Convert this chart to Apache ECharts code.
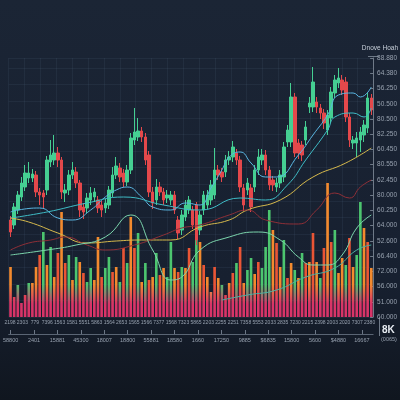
<!DOCTYPE html>
<html><head><meta charset="utf-8">
<script src="https://cdn.jsdelivr.net/npm/echarts@6/dist/echarts.min.js"></script>
<style>html,body{margin:0;padding:0;background:#141c28}#c{width:400px;height:400px}</style>
</head><body><div id="c"></div>
<script>
// ---- data ----
const candleOpen = [97,92,107,120,130,139,139,142,125,124, 127,155,157,164,157,124,127,142,145,134, 110,109,117,120,117,112,109,112,124,142, 149,144,135,147,177,180,186,180,162,125, 117,130,125,119,117,122,97,87,100,107, 107,112,87,107,112,117,122,147,145,145, 157,160,164,157,129,127,129,130,147,157, 162,147,137,130,134,140,175,175,220,174, 172,177,210,210,215,209,204,187,199,224, 234,237,235,200,174,174,177,182,189,219];
const candleClose = [85,110,122,134,144,144,143,125,122,120, 157,162,164,157,125,127,142,147,134,107, 105,119,124,125,109,107,114,127,142,151, 140,135,147,179,185,186,180,157,125,114, 130,125,117,122,122,107,84,102,112,117, 92,77,102,122,122,132,147,142,140,157, 160,170,157,130,112,134,110,147,160,162, 147,132,132,134,142,170,187,220,164,164, 162,190,214,235,210,204,194,202,225,237, 239,227,200,177,177,179,185,192,219,207];
const candleLow = [80,88,103,116,126,134,135,120,112,108, 122,150,152,150,118,115,122,138,129,100, 98,104,112,115,104,100,104,108,120,138, 135,130,131,143,172,176,175,152,120,108, 112,121,112,114,112,103,78,82,96,103, 88,72,82,102,108,112,118,137,135,140, 152,155,152,125,106,122,105,125,142,152, 142,127,126,125,129,135,170,170,160,158, 156,172,204,205,204,198,188,182,194,219, 229,222,195,170,168,160,165,175,184,202];
const candleHigh = [101,114,126,140,152,155,148,146,129,127, 161,177,182,170,160,133,147,155,150,137, 114,124,130,129,121,116,118,131,150,160, 154,148,152,184,209,199,190,184,166,130, 138,135,129,127,126,126,101,107,117,121, 111,115,106,126,127,137,169,152,149,162, 166,176,168,161,133,139,133,152,168,168, 167,151,141,139,147,175,192,234,224,178, 176,196,220,250,220,213,208,207,230,242, 249,242,240,204,181,185,190,197,224,223];
const volume = [50,20,32,14,22,34,34,50,62,85, 52,70,40,64,105,54,62,37,60,55, 44,35,49,37,80,40,49,60,45,50, 35,69,54,100,69,84,35,54,37,40, 64,42,49,40,75,49,45,50,49,69, 55,112,75,52,40,25,50,39,32,22, 34,44,54,70,34,47,59,43,55,49, 70,107,87,74,50,77,39,54,47,39, 64,54,55,84,55,39,69,134,75,87, 44,59,52,79,50,62,115,89,75,49];
const volumeKind = ['o','r','g','o','r','g','o','o','r','g', 'o','g','o','r','o','r','g','o','g','o', 'r','g','g','o','o','r','g','g','r','o', 'g','r','g','o','r','g','o','g','r','o', 'g','r','o','g','g','o','r','g','o','r', 'g','g','o','r','o','y','r','o','g','r', 'o','r','g','r','o','g','g','o','r','g', 'g','g','o','r','o','g','r','o','g','o', 'g','r','o','r','o','g','r','o','r','g', 'o','o','g','r','o','g','g','o','r','o'];
// moving-average style lines: [candle index, value]
const lineA = [[0,105],[2,107],[8,109],[13,99],[17,97],[22,107],[26,120],[29,127],[32,130],[36,120],[39,110],[44,107],[48,114],[52,112],[55,129],[58,147],[60,160],[63,165],[66,154],[70,140],[73,140],[79,162],[83,182],[87,202],[90,222],[94,224],[96,220],[99,230]];
const lineB = [[0,99],[10,105],[21,114],[31,120],[42,112],[52,107],[63,119],[70,117],[76,132],[81,157],[87,187],[89,200],[94,204],[97,200],[99,209]];
const lineC = [[0,99],[5,95],[13,84],[21,74],[29,76],[36,77],[44,77],[52,90],[60,97],[65,107],[74,117],[83,140],[92,154],[99,169]];
const lineD = [[0,67],[5,74],[11,77],[15,80],[21,72],[26,67],[34,72],[42,82],[47,89],[52,92],[60,102],[65,107],[70,97],[79,93],[84,107],[89,124],[93,119],[96,130],[99,137]];
const lineE = [[0,62],[10,67],[18,72],[26,80],[33,102],[39,67],[44,37],[47,40],[52,67],[60,80],[68,85],[74,77],[79,60],[83,52],[87,52],[91,62],[95,89],[99,102]];
const lineF = [[58,17],[65,22],[73,27],[81,40],[89,49],[95,67],[99,72]];
const rightLabels = ["88.880","64.380","56.250","50.500","80.500","82.250","60.450","80.550","62.450","80.000","60.250","64.000","52.600","66.400","72.000","56.000","51.000","60.000"];
const row1Labels = ["2198","2303","779","7396","1563","1581","5551","5863","1564","2653","1565","1566","7377","1568","7323","5865","2203","2255","2251","7358","5553","2033","2835","7230","2215","2398","2003","2020","7307","2380"];
const row2Labels = ["58800","2401","15881","45300","18007","18800","55881","18580","1660","17250","9885","$6835","15800","5600","$4880","16667"];

// ---- build ----
const categories = candleOpen.map((_, i) => 'D' + (i + 1));
const candleData = candleOpen.map((o, i) => [o, candleClose[i], candleLow[i], candleHigh[i]]);
const kindColor = {o:'#f38a2e', r:'#ea5535', g:'#4cc56f', y:'#f0a838'};
const volData = volume.map((v, i) => ({
  value: v,
  itemStyle: {color: {type:'linear', x:0, y:284, x2:0, y2:304, global:true,
    colorStops:[{offset:0, color:kindColor[volumeKind[i]]},{offset:1, color:'#d83468'}]}}
}));
const labelColor = '#97a1af';
const FONT = 'Liberation Sans';
const mkLine = (data, color) => ({type:'line', data, xAxisIndex:0, yAxisIndex:0, smooth:true, symbol:'none',
  lineStyle:{color, width:1}, z:4, silent:true});

const chart = echarts.init(document.getElementById('c'), null, {renderer:'canvas'});
chart.setOption({
  animation:false,
  backgroundColor:{type:'linear', x:0, y:0, x2:0, y2:1, colorStops:[{offset:0,color:'#1b2535'},{offset:0.7,color:'#172030'},{offset:1,color:'#10161f'}]},
  grid:[
    {left:0, right:21, top:58, bottom:83, containLabel:false},
    {left:3.8, right:24.2, top:58, bottom:83, containLabel:false}
  ],
  xAxis:[
    {type:'category', data:categories, show:false, boundaryGap:true, gridIndex:0},
    {type:'category', data:row1Labels, gridIndex:1, position:'bottom', boundaryGap:true,
      axisLine:{show:false}, axisTick:{show:false}, splitLine:{show:false},
      axisLabel:{interval:0, hideOverlap:false, fontSize:5, color:labelColor, margin:3, fontFamily:FONT}},
    {type:'value', min:-0.082, max:15.48, position:'bottom', offset:17, gridIndex:0,
      axisLine:{show:true, onZero:false, lineStyle:{color:'#5a6574', width:1}},
      axisTick:{show:true, inside:true, length:4, customValues: row2Labels.map((_, k) => k), lineStyle:{color:'#6c7786'}},
      splitLine:{show:false},
      axisLabel:{customValues: row2Labels.map((_, k) => k), formatter: v => row2Labels[Math.round(v)] || '', hideOverlap:false,
        fontSize:5.5, color:labelColor, margin:3, fontFamily:FONT}},
    {type:'value', min:0, max:379, interval:16.5, position:'top', gridIndex:0,
      axisLine:{show:false, onZero:false}, axisTick:{show:false}, axisLabel:{show:false},
      splitLine:{show:true, lineStyle:{color:'rgba(110,140,170,0.10)', width:1}}}
  ],
  yAxis:[
    {type:'value', min:0, max:259, interval:16.6, position:'left', gridIndex:0,
      axisLine:{show:false, onZero:false}, axisTick:{show:false}, axisLabel:{show:false},
      splitLine:{show:true, lineStyle:{color:'rgba(110,140,170,0.10)', width:1}}},
    {type:'value', min:0, max:259, show:false, gridIndex:0},
    {type:'value', min:0, max:17, interval:1, position:'right', gridIndex:0,
      axisLine:{show:true, onZero:false, lineStyle:{color:'#6f7a88'}},
      axisTick:{show:true, inside:true, length:3, lineStyle:{color:'#6f7a88'}},
      splitLine:{show:false},
      axisLabel:{formatter: v => rightLabels[17 - v] || '', fontSize:6.5, color:labelColor, margin:4, fontFamily:FONT}},
    {type:'value', gridIndex:1, show:false, min:0, max:1}
  ],
  series:[
    {type:'bar', data:volData, xAxisIndex:0, yAxisIndex:1, barWidth:'72%', z:1, silent:true},
    {type:'candlestick', data:candleData, xAxisIndex:0, yAxisIndex:0, barWidth:3, z:3,
      itemStyle:{color:'#45cf92', color0:'#e4484b', borderColor:'#45cf92', borderColor0:'#e4484b', borderWidth:1}},
    mkLine(lineA, '#5ab6e2'),
    mkLine(lineB, '#3fbcc6'),
    mkLine(lineC, '#d6b94c'),
    mkLine(lineD, '#8e2f37'),
    mkLine(lineE, '#7cd6ad'),
    mkLine(lineF, '#4bb3a2')
  ],
  graphic:[
    {type:'text', right:2, top:45, style:{text:'Dnove Hoah', fontSize:6.5, fill:'#c8d0da', fontFamily:FONT}},
    {type:'line', shape:{x1:368, y1:56.5, x2:379, y2:56.5}, style:{stroke:'#6f7a88', lineWidth:1}},
    {type:'line', shape:{x1:379.5, y1:317, x2:379.5, y2:336}, style:{stroke:'#6f7a88', lineWidth:1}},
    {type:'text', left:382, top:325, style:{text:'8K', fontSize:10, fontWeight:'bold', fill:'#e8edf3', fontFamily:FONT}},
    {type:'text', left:381, top:336, style:{text:'(0065)', fontSize:5.5, fill:labelColor, fontFamily:FONT}}
  ]
});
</script></body></html>
